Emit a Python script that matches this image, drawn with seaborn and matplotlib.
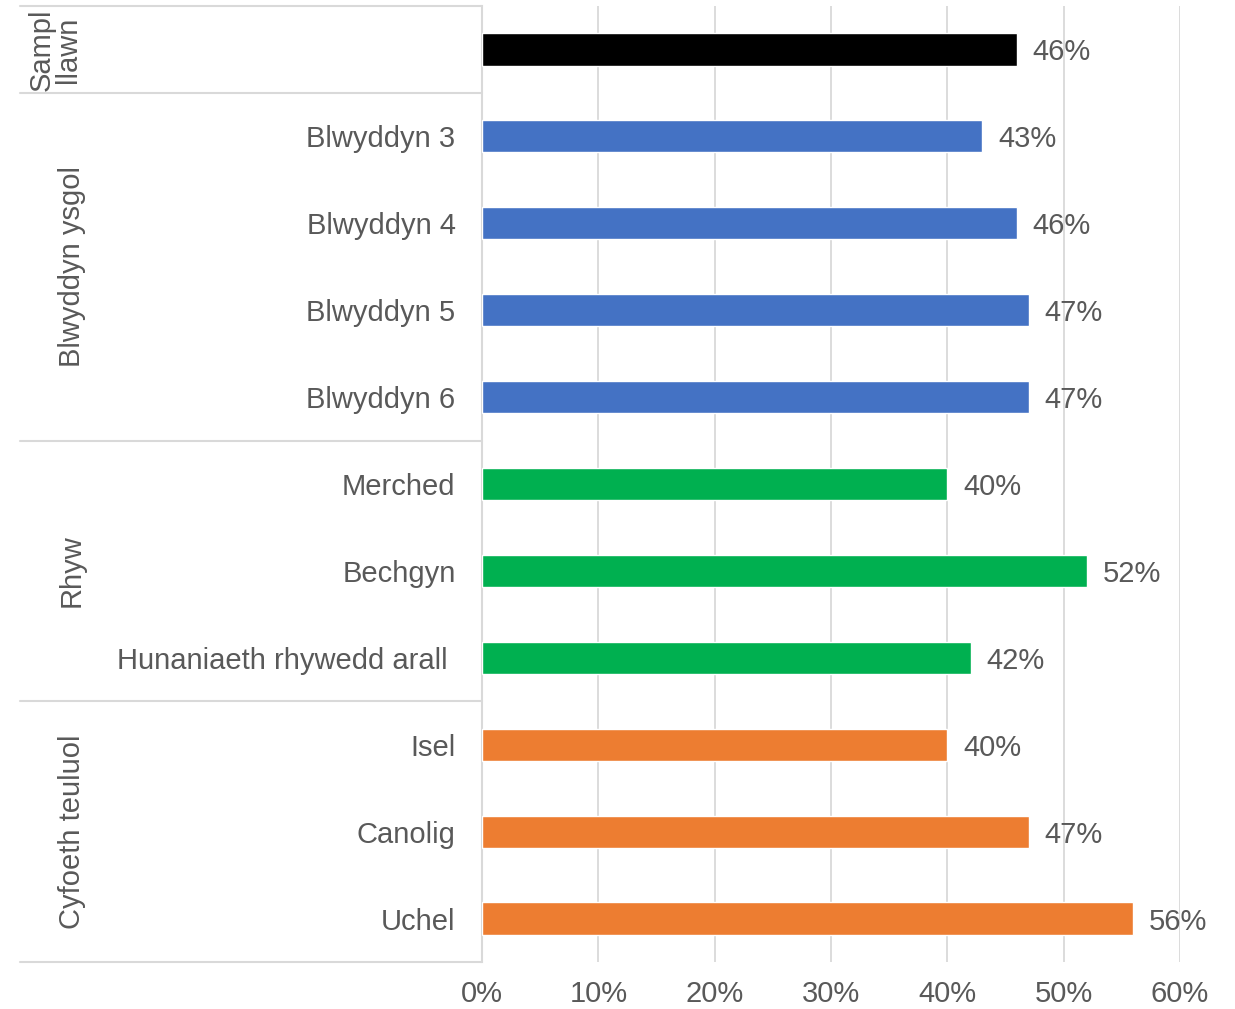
import pandas as pd
import numpy as np
import matplotlib.pyplot as plt
import seaborn as sns

# Chart data
categories = ['', 'Blwyddyn 3', 'Blwyddyn 4', 'Blwyddyn 5', 'Blwyddyn 6',
              'Merched', 'Bechgyn', 'Hunaniaeth rhywedd arall ',
              'Isel', 'Canolig', 'Uchel']
groups = ['Sampl\nllawn', 'Blwyddyn ysgol', 'Blwyddyn ysgol', 'Blwyddyn ysgol', 'Blwyddyn ysgol',
          'Rhyw', 'Rhyw', 'Rhyw',
          'Cyfoeth teuluol', 'Cyfoeth teuluol', 'Cyfoeth teuluol']
values = [46, 43, 46, 47, 47, 40, 52, 42, 40, 47, 56]
group_names = ['Sampl\nllawn', 'Blwyddyn ysgol', 'Rhyw', 'Cyfoeth teuluol']
group_colors = ['#000000', '#4472C4', '#00B050', '#ED7D31']
x_ticks = [0, 10, 20, 30, 40, 50, 60]

df = pd.DataFrame({'cat': [f'{i}_{c}' for i, c in enumerate(categories)],
                   'group': groups, 'value': values})

sns.set_style('white')
plt.rcParams['font.family'] = ['Liberation Sans', 'DejaVu Sans']
text_col = '#595959'
line_col = '#D9D9D9'
fs = 21

fig = plt.figure(figsize=(12.35, 10.09), dpi=100)
ax = fig.add_axes([482 / 1235, 1 - 962 / 1009, 698 / 1235, 956 / 1009])

sns.barplot(data=df, y='cat', x='value', hue='group', hue_order=group_names,
            palette=group_colors, saturation=1, dodge=False, width=0.37,
            legend=False, orient='h', ax=ax, zorder=3)

ax.set_xlim(0, 60)
ax.set_ylim(len(categories) - 0.5, -0.5)
ax.set_xticks(x_ticks)
ax.set_xticklabels([f'{t}%' for t in x_ticks])
ax.set_yticks(range(len(categories)))
ax.set_yticklabels(categories)
ax.tick_params(axis='both', length=0, labelsize=fs, colors=text_col)
ax.tick_params(axis='y', pad=19)
ax.tick_params(axis='x', pad=13)
ax.set_xlabel('')
ax.set_ylabel('')
ax.grid(axis='x', color=line_col, linewidth=1.3, zorder=0)
ax.set_axisbelow(True)
for s in ['top', 'right', 'bottom']:
    ax.spines[s].set_visible(False)
ax.spines['left'].set_color(line_col)
ax.spines['left'].set_linewidth(1.5)

# value labels
for i, v in enumerate(values):
    ax.text(v + 1.35, i, f'{v}%', va='center_baseline', ha='left',
            fontsize=fs, color=text_col)

# group separators and group labels on the left
ytr = ax.get_yaxis_transform()
left_x = (20 - 482) / 698
for yb in [-0.5, 0.5, 4.5, 7.5, 10.5]:
    ax.plot([left_x, 0], [yb, yb], transform=ytr, color=line_col,
            linewidth=1.5, clip_on=False)

label_x = (72 - 482) / 698
for g in group_names:
    idx = [i for i, gg in enumerate(groups) if gg == g]
    yc = (idx[0] + idx[-1]) / 2
    x = label_x if '\n' not in g else (55 - 482) / 698
    ax.text(x, yc, g, transform=ytr, rotation=90, ha='center', va='center',
            fontsize=fs, color=text_col, linespacing=0.9)

fig.savefig('out.png', dpi=100)
